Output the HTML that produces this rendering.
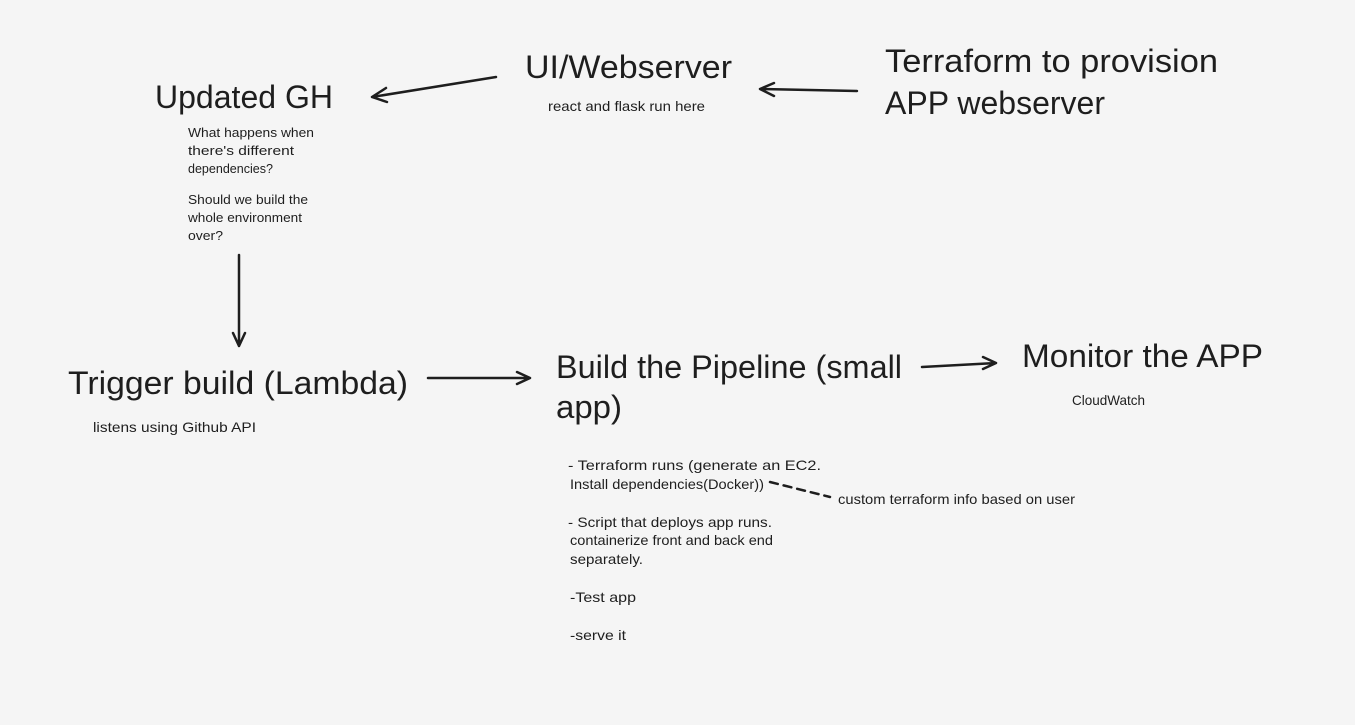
<!DOCTYPE html>
<html><head><meta charset="utf-8"><style>
html,body{margin:0;padding:0;background:#f5f5f5;}
svg{display:block;}
text{font-family:"Liberation Sans",sans-serif;fill:#1e1e1e;}
</style></head><body>
<svg width="1355" height="725" viewBox="0 0 1355 725" xmlns="http://www.w3.org/2000/svg">
<rect width="1355" height="725" fill="#f5f5f5"/>
<g stroke="#1e1e1e" stroke-width="2.5" fill="none" stroke-linecap="round" stroke-linejoin="round">
<path d="M496 77 L372 97 M386 88 L372 97 L387 102"/>
<path d="M857 91 L760 89 M774 83 L760 89 L774 96"/>
<path d="M239 255 L239 346 M233 333 L239 346 L245 333"/>
<path d="M428 378 L530 378 M517 372 L530 378 L517 384"/>
<path d="M922 367 L996 363 M983 357 L996 363 L983 369"/>
<path d="M770 482 L830 497" stroke-dasharray="8 6"/>
</g>
<g font-size="32">
<text x="155" y="108" textLength="178" lengthAdjust="spacingAndGlyphs">Updated GH</text>
<text x="525" y="78" textLength="207" lengthAdjust="spacingAndGlyphs">UI/Webserver</text>
<text x="885" y="72" textLength="333" lengthAdjust="spacingAndGlyphs">Terraform to provision</text>
<text x="885" y="114" textLength="220" lengthAdjust="spacingAndGlyphs">APP webserver</text>
<text x="68" y="394" textLength="340" lengthAdjust="spacingAndGlyphs">Trigger build (Lambda)</text>
<text x="556" y="378" textLength="346" lengthAdjust="spacingAndGlyphs">Build the Pipeline (small</text>
<text x="556" y="418" textLength="66" lengthAdjust="spacingAndGlyphs">app)</text>
<text x="1022" y="367" textLength="241" lengthAdjust="spacingAndGlyphs">Monitor the APP</text>
</g>
<g font-size="14">
<text x="548" y="111" textLength="157" lengthAdjust="spacingAndGlyphs">react and flask run here</text>
<text x="93" y="432" textLength="163" lengthAdjust="spacingAndGlyphs">listens using Github API</text>
<text x="1072" y="405" textLength="73" lengthAdjust="spacingAndGlyphs">CloudWatch</text>
<text x="568" y="470" textLength="253" lengthAdjust="spacingAndGlyphs">- Terraform runs (generate an EC2.</text>
<text x="570" y="489" textLength="194" lengthAdjust="spacingAndGlyphs">Install dependencies(Docker))</text>
<text x="838" y="504" textLength="237" lengthAdjust="spacingAndGlyphs">custom terraform info based on user</text>
<text x="568" y="527" textLength="204" lengthAdjust="spacingAndGlyphs">- Script that deploys app runs.</text>
<text x="570" y="545" textLength="203" lengthAdjust="spacingAndGlyphs">containerize front and back end</text>
<text x="570" y="564" textLength="73" lengthAdjust="spacingAndGlyphs">separately.</text>
<text x="570" y="602" textLength="66" lengthAdjust="spacingAndGlyphs">-Test app</text>
<text x="570" y="640" textLength="56" lengthAdjust="spacingAndGlyphs">-serve it</text>
</g>
<g font-size="13">
<text x="188" y="137" textLength="126" lengthAdjust="spacingAndGlyphs">What happens when</text>
<text x="188" y="155" textLength="106" lengthAdjust="spacingAndGlyphs">there's different</text>
<text x="188" y="173" textLength="85" lengthAdjust="spacingAndGlyphs">dependencies?</text>
<text x="188" y="204" textLength="120" lengthAdjust="spacingAndGlyphs">Should we build the</text>
<text x="188" y="222" textLength="114" lengthAdjust="spacingAndGlyphs">whole environment</text>
<text x="188" y="240" textLength="35" lengthAdjust="spacingAndGlyphs">over?</text>
</g>
</svg>
</body></html>
